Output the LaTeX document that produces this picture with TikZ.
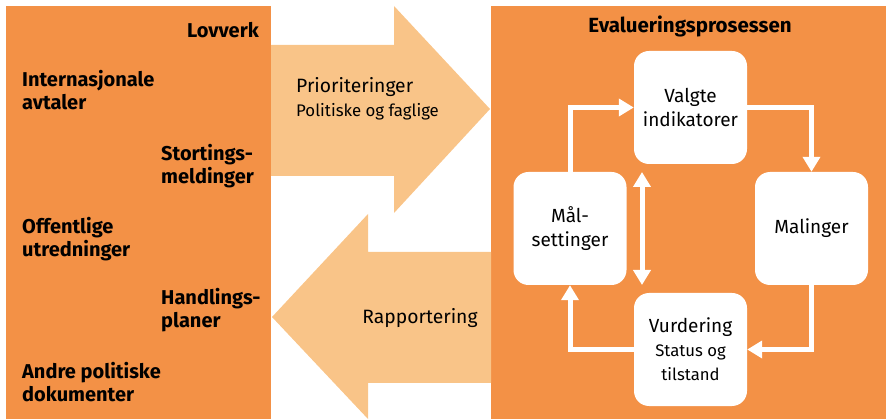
\documentclass[tikz,border=0pt]{standalone}
\usepackage{fontspec}
\setmainfont{Fira Sans}
\usetikzlibrary{arrows.meta,positioning,calc}
\definecolor{panelor}{HTML}{F39146}
\definecolor{lightor}{HTML}{F9C488}
\tikzset{
  panel/.style={fill=panelor, draw=none},
  bigarrow/.style={fill=lightor, draw=none},
  leftlbl/.style={font=\bfseries\fontsize{20}{23.5}\selectfont, align=left, inner sep=0pt, anchor=base west},
  stepbox/.style={fill=white, draw=none, rounded corners=15pt, minimum width=113pt, minimum height=113pt, inner sep=0pt, align=center, font=\fontsize{19}{24}\selectfont},
  flow/.style={draw=white, line width=5pt, -{Triangle[length=15pt,width=17pt]}},
  flowboth/.style={draw=white, line width=5pt, {Triangle[length=15pt,width=17pt]}-{Triangle[length=15pt,width=17pt]}},
  arrowtxt/.style={inner sep=0pt, anchor=base west}
}
\begin{document}
\begin{tikzpicture}[x=1pt,y=-1pt]
\useasboundingbox (0,0) rectangle (886,419);
% panels
\fill[panel] (6,6) rectangle (271,419);
\fill[panel] (491,6) rectangle (886,419);
% big arrows
\fill[bigarrow] (271,45) -- (394,45) -- (394,6) -- (490,109) -- (394,213) -- (394,176) -- (271,176) -- cycle;
\fill[bigarrow] (491,252) -- (368,252) -- (368,214) -- (272,317) -- (368,419) -- (368,383) -- (491,383) -- cycle;
% arrow texts
\node[arrowtxt, font=\fontsize{19.3}{23}\selectfont] (prio) at (296,93) {Prioriteringer};
\node[arrowtxt, font=\fontsize{16.8}{20}\selectfont] (polit) at (296,117) {Politiske og faglige};
\node[inner sep=0pt, anchor=base, font=\fontsize{19.3}{23}\selectfont] (rapp) at (420,324) {Rapportering};
% left labels (anchor on the last line's baseline)
\node[leftlbl, anchor=base east] (lov) at (259,37.5) {Lovverk};
\node[leftlbl] (intl) at (22,110) {Internasjonale\\avtaler};
\node[leftlbl] (stort) at (161,184) {Stortings-\\meldinger};
\node[leftlbl] (off) at (22,257) {Offentlige\\utredninger};
\node[leftlbl] (handl) at (161,328) {Handlings-\\planer};
\node[leftlbl] (andre) at (22,402) {Andre politiske\\dokumenter};
% title
\node[inner sep=0pt, anchor=base, font=\bfseries\fontsize{20.5}{23}\selectfont] (title) at (690,33) {Evalueringsprosessen};
% step boxes
\node[stepbox] (valgte) at (690.5,107.5) {Valgte\\indikatorer};
\node[stepbox] (mal) at (570,228.5) {Mål-\\settinger};
\node[stepbox] (maling) at (811.5,228.5) {Malinger};
\node[stepbox] (vurd) at (690.5,349.5) {Vurdering\\{\fontsize{16.7}{23.5}\selectfont Status og}\\{\fontsize{16.7}{23.5}\selectfont tilstand}};
% connectors
\draw[flow] (mal.north) |- (valgte.west);
\draw[flow] (valgte.east) -| (maling.north);
\draw[flow] (maling.south) |- (vurd.east);
\draw[flow] (vurd.west) -| (mal.south);
\coordinate (da) at (642,172);
\coordinate (db) at (642,285);
\draw[flowboth] (da) -- (db);
\end{tikzpicture}
\end{document}
